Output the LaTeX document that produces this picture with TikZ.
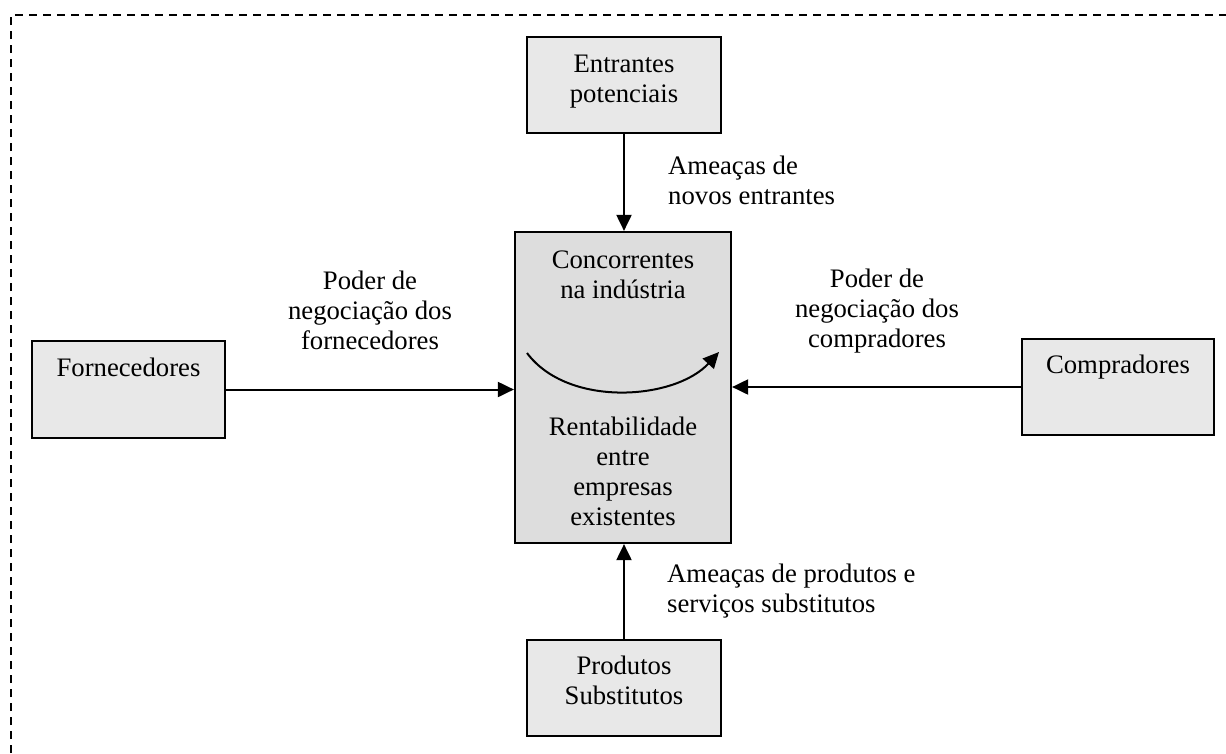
\documentclass[tikz,border=0pt]{standalone}
\usepackage{fontspec}
\setmainfont{Liberation Serif}
\usetikzlibrary{arrows.meta}
\definecolor{sidegray}{gray}{0.91}
\definecolor{centergray}{gray}{0.865}
\begin{document}
\begin{tikzpicture}[x=1pt,y=-1pt,
  txt/.style={font=\fontsize{26.7pt}{30pt}\selectfont, inner sep=0pt, align=center},
  sidebox/.style={draw=black, line width=2.2pt, fill=sidegray, rectangle, inner sep=0pt},
  centerbox/.style={draw=black, line width=2.2pt, fill=centergray, rectangle, inner sep=0pt},
  force/.style={line width=2pt, -{Triangle[length=16pt,width=15pt]}},
  frame/.style={line width=2pt, dash pattern=on 8pt off 6pt}
]
\useasboundingbox (0,0) rectangle (1226,753);
% dashed frame (top and left visible)
\coordinate (fr0) at (11,15);
\coordinate (fr1) at (1226,15);
\coordinate (fr2) at (11,753);
\draw[frame] (fr2) -- (fr0) -- (fr1);

% boxes
\node[sidebox, minimum width=194pt, minimum height=96pt] (ent) at (624,85) {};
\node[sidebox, minimum width=193pt, minimum height=97pt] (forn) at (128.5,389.5) {};
\node[sidebox, minimum width=192pt, minimum height=96pt] (comp) at (1118,387) {};
\node[sidebox, minimum width=194pt, minimum height=96pt] (prod) at (624,688) {};
\node[centerbox, minimum width=216pt, minimum height=311pt] (cen) at (623,387.5) {};

% box texts
\node[txt, anchor=north] (entT) at ([yshift=-19pt]ent.north) {Entrantes\\potenciais};
\node[txt, anchor=north] (fornT) at ([yshift=-18pt]forn.north) {Fornecedores};
\node[txt, anchor=north] (compT) at ([yshift=-17pt]comp.north) {Compradores};
\node[txt, anchor=north] (prodT) at ([yshift=-17pt]prod.north) {Produtos\\Substitutos};
\node[txt, anchor=north] (cenT1) at ([yshift=-20pt]cen.north) {Concorrentes\\na indústria};
\node[txt, anchor=north] (cenT2) at (623,417) {Rentabilidade\\entre\\empresas\\existentes};

% rivalry arrow
\coordinate (rv0) at (527,353);
\coordinate (rv1) at (719,352);
\draw[line width=2pt, -{Triangle[length=16pt,width=15pt]}] (rv0) .. controls (568,408) and (675,400) .. (rv1);

% force arrows
\draw[force] (ent.south) -- (ent.south |- cen.north);
\draw[force] (forn.east) -- (forn.east -| cen.west);
\draw[force] (comp.west) -- (comp.west -| cen.east);
\draw[force] (prod.north) -- (prod.north |- cen.south);

% labels
\node[txt, anchor=north west, align=left] (lblEnt) at (668,156) {Ameaças de\\novos entrantes};
\node[txt, anchor=north] (lblForn) at (370,271) {Poder de\\negociação dos\\fornecedores};
\node[txt, anchor=north] (lblComp) at (877,269) {Poder de\\negociação dos\\compradores};
\node[txt, anchor=north west, align=left] (lblProd) at (667,564) {Ameaças de produtos e\\serviços substitutos};
\end{tikzpicture}
\end{document}
